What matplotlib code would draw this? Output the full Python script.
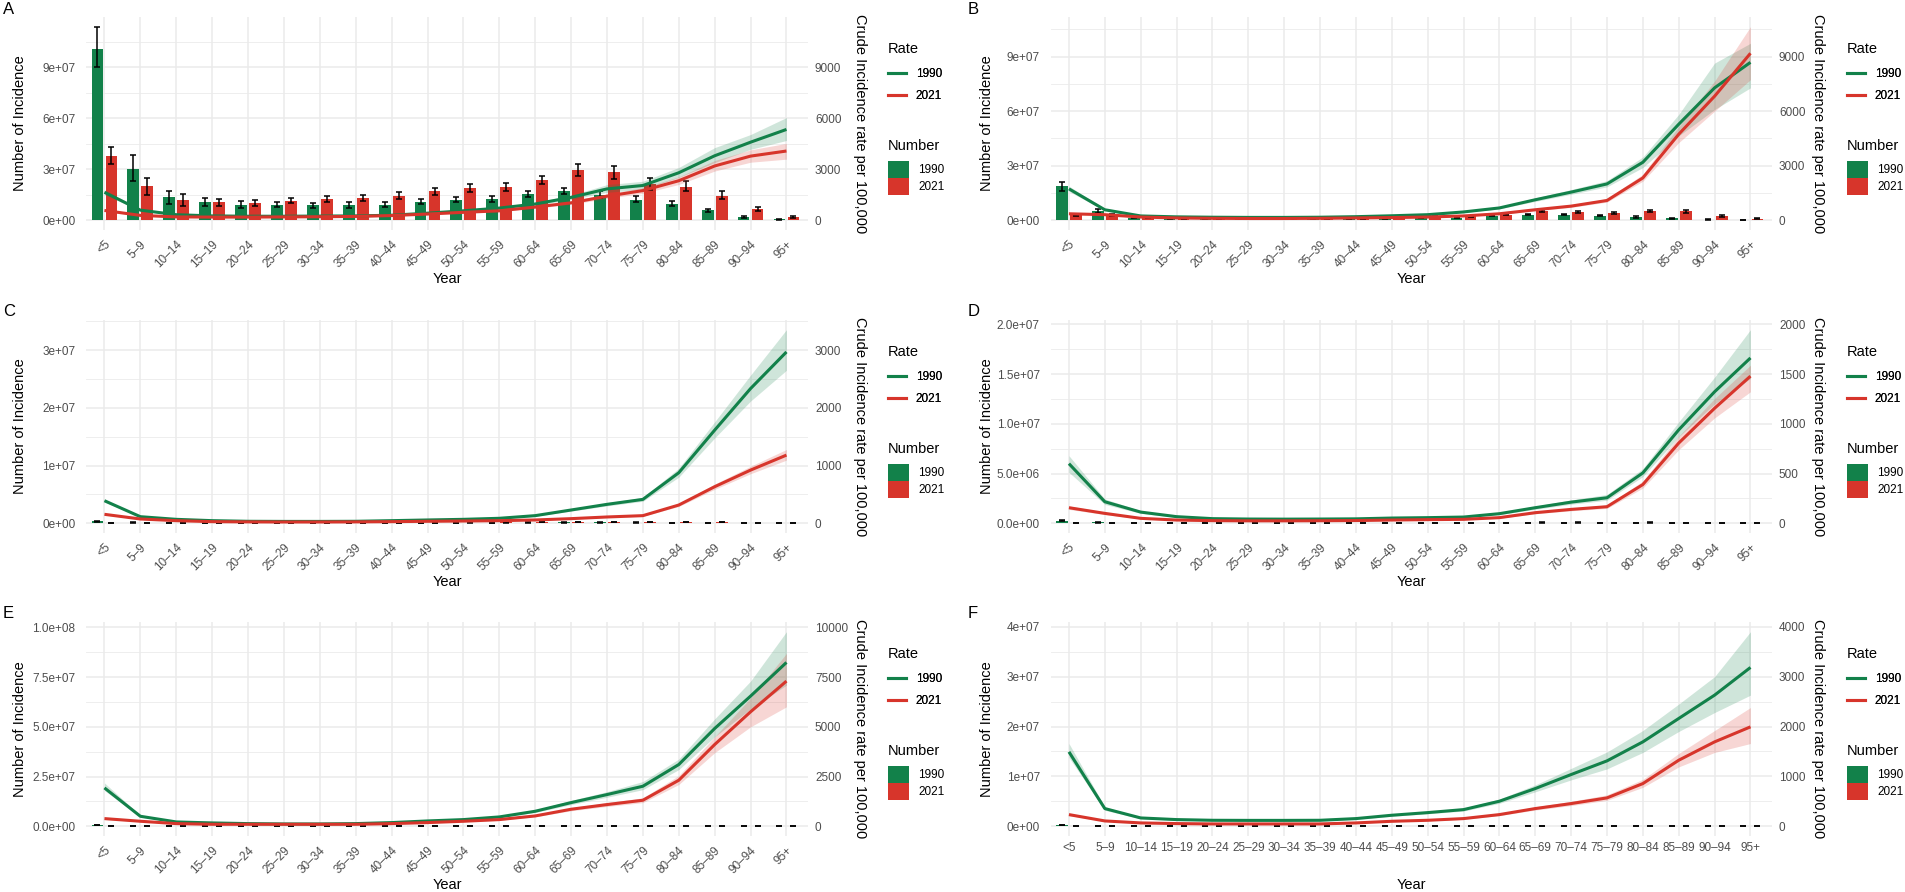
import numpy as np
import matplotlib
matplotlib.use('Agg')
import matplotlib.pyplot as plt
from matplotlib.lines import Line2D
from matplotlib.patches import Patch

plt.rcParams['font.family'] = ['Liberation Sans', 'DejaVu Sans']

W, H = 1906, 892
GREEN = '#12814A'
RED = '#D7352B'
GRID = '#EBEBEB'
TXT = '#4D4D4D'

AGES = ['<5', '5–9', '10–14', '15–19', '20–24', '25–29', '30–34', '35–39',
        '40–44', '45–49', '50–54', '55–59', '60–64', '65–69', '70–74',
        '75–79', '80–84', '85–89', '90–94', '95+']

# ---- rates (per 100,000), with ribbon bounds ----
A_rate90 = [1650, 600, 330, 260, 240, 240, 250, 260, 300, 420, 560, 720, 960, 1350, 1850, 2050, 2800, 3800, 4600, 5350]
A_lo90 = [1520, 550, 300, 235, 215, 215, 225, 235, 270, 380, 505, 650, 870, 1230, 1650, 1820, 2530, 3400, 4180, 4700]
A_hi90 = [1800, 660, 365, 285, 265, 265, 275, 285, 330, 460, 615, 790, 1060, 1480, 2100, 2300, 3110, 4280, 5050, 6050]
A_rate21 = [580, 290, 200, 190, 190, 200, 210, 230, 280, 370, 470, 560, 780, 1030, 1420, 1750, 2330, 3200, 3780, 4080]
A_lo21 = [530, 265, 180, 170, 170, 180, 190, 210, 255, 335, 425, 505, 710, 940, 1290, 1590, 2110, 2900, 3420, 3600]
A_hi21 = [640, 320, 220, 210, 210, 220, 230, 255, 310, 405, 515, 615, 860, 1130, 1560, 1920, 2560, 3520, 4150, 4530]

B_rate90 = [1730, 580, 240, 190, 170, 160, 160, 170, 200, 250, 310, 460, 680, 1130, 1550, 2000, 3190, 5280, 7280, 8680]
B_lo90 = [1590, 530, 220, 175, 155, 145, 145, 155, 185, 230, 285, 425, 630, 1040, 1430, 1840, 2900, 4640, 6090, 7280]
B_hi90 = [1880, 640, 265, 210, 185, 175, 175, 185, 220, 275, 340, 500, 740, 1230, 1690, 2180, 3480, 5820, 8640, 9730]
B_rate21 = [360, 310, 180, 130, 110, 100, 100, 110, 130, 150, 180, 240, 360, 580, 780, 1090, 2330, 4730, 6820, 9180]
B_lo21 = [320, 280, 160, 115, 97, 88, 88, 97, 115, 135, 160, 215, 325, 525, 710, 1000, 2150, 4270, 6000, 7730]
B_hi21 = [400, 345, 200, 145, 123, 112, 112, 123, 145, 167, 200, 265, 400, 640, 860, 1190, 2530, 5150, 7650, 10640]

C_rate90 = [392, 115, 69, 46, 35, 33, 33, 35, 46, 58, 69, 87, 133, 231, 329, 415, 877, 1616, 2337, 2972]
C_lo90 = [370, 105, 63, 42, 32, 30, 30, 32, 42, 53, 63, 80, 122, 212, 302, 382, 800, 1480, 2120, 2654]
C_hi90 = [415, 126, 75, 50, 38, 36, 36, 38, 50, 63, 75, 95, 145, 250, 356, 450, 955, 1760, 2570, 3358]
C_rate21 = [156, 75, 46, 29, 25, 23, 23, 25, 29, 35, 40, 46, 58, 81, 110, 133, 317, 635, 923, 1183]
C_lo21 = [145, 69, 42, 27, 23, 21, 21, 23, 27, 32, 37, 42, 53, 74, 101, 122, 292, 590, 860, 1096]
C_hi21 = [168, 82, 50, 32, 27, 25, 25, 27, 32, 38, 43, 50, 63, 88, 120, 145, 342, 680, 990, 1281]

D_rate90 = [600, 217, 113, 67, 47, 43, 42, 43, 45, 53, 57, 63, 97, 157, 213, 257, 507, 940, 1323, 1663]
D_lo90 = [513, 190, 100, 60, 42, 38, 37, 38, 40, 47, 51, 56, 87, 141, 192, 232, 470, 870, 1200, 1457]
D_hi90 = [680, 245, 126, 74, 52, 48, 47, 48, 50, 59, 63, 70, 107, 173, 235, 290, 550, 1020, 1470, 1947]
D_rate21 = [157, 100, 50, 33, 27, 25, 25, 26, 28, 33, 37, 40, 57, 107, 140, 167, 390, 807, 1157, 1480]
D_lo21 = [140, 88, 44, 29, 24, 22, 22, 23, 25, 29, 33, 36, 51, 96, 126, 150, 355, 740, 1060, 1323]
D_hi21 = [175, 112, 56, 37, 30, 28, 28, 29, 31, 37, 41, 44, 63, 118, 154, 184, 425, 875, 1255, 1590]

E_rate90 = [1930, 503, 218, 168, 134, 117, 117, 134, 185, 268, 336, 470, 755, 1190, 1594, 2013, 3104, 4916, 6544, 8238]
E_lo90 = [1800, 460, 200, 154, 123, 107, 107, 123, 170, 246, 309, 432, 695, 1090, 1460, 1840, 2850, 4500, 5900, 7097]
E_hi90 = [2180, 550, 238, 183, 146, 128, 128, 146, 202, 292, 366, 512, 822, 1300, 1740, 2250, 3380, 5400, 7300, 9782]
E_rate21 = [386, 252, 134, 100, 100, 100, 100, 100, 134, 185, 252, 336, 520, 856, 1091, 1309, 2315, 4110, 5755, 7299]
E_lo21 = [350, 230, 122, 91, 91, 91, 91, 91, 122, 169, 230, 306, 475, 780, 995, 1190, 2100, 3700, 5000, 6007]
E_hi21 = [420, 275, 146, 109, 109, 109, 109, 109, 146, 202, 275, 366, 565, 935, 1190, 1430, 2550, 4500, 6450, 8691]

F_rate90 = [1492, 355, 167, 134, 120, 118, 118, 120, 154, 221, 274, 334, 502, 756, 1037, 1311, 1692, 2161, 2629, 3184]
F_lo90 = [1380, 320, 152, 122, 109, 107, 107, 109, 140, 200, 250, 305, 460, 690, 930, 1150, 1480, 1900, 2280, 2629]
F_hi90 = [1660, 390, 183, 146, 131, 129, 129, 131, 168, 242, 298, 365, 545, 830, 1160, 1490, 1920, 2450, 3000, 3900]
F_rate21 = [234, 107, 67, 54, 47, 47, 47, 47, 67, 100, 120, 154, 234, 355, 455, 569, 856, 1324, 1692, 1993]
F_lo21 = [215, 98, 61, 49, 43, 43, 43, 43, 61, 91, 110, 141, 214, 325, 415, 520, 780, 1190, 1480, 1659]
F_hi21 = [255, 117, 73, 59, 51, 51, 51, 51, 73, 109, 130, 168, 255, 390, 500, 630, 940, 1460, 1920, 2381]

# ---- numbers of incidence (millions), with error bar bounds ----
A_num90 = [101, 30.1, 13.6, 10.7, 9.3, 9.3, 8.8, 8.8, 9.3, 11.0, 12.1, 12.6, 15.6, 17.1, 15.0, 12.2, 9.7, 5.8, 2.0, 0.6]
A_num90_lo = [90, 23.3, 9.7, 8.5, 7.5, 7.8, 7.5, 7.2, 8.0, 9.5, 10.5, 10.8, 14.0, 15.5, 13.0, 10.5, 8.5, 5.0, 1.6, 0.4]
A_num90_hi = [114, 38.3, 17.5, 13.0, 11.2, 10.8, 10.2, 10.5, 10.8, 12.5, 13.8, 14.5, 17.5, 19.2, 17.0, 14.2, 11.2, 6.6, 2.5, 0.8]
A_num21 = [37.9, 20.0, 12.2, 10.5, 10.3, 11.5, 12.7, 13.0, 14.6, 17.1, 18.9, 19.5, 23.7, 29.6, 28.2, 21.4, 19.8, 14.6, 6.4, 2.0]
A_num21_lo = [33.0, 15.0, 8.6, 8.5, 8.4, 10.0, 11.0, 11.2, 12.8, 15.2, 16.8, 17.2, 21.5, 26.0, 24.5, 18.0, 17.0, 12.5, 5.3, 1.6]
A_num21_hi = [43.4, 24.9, 15.7, 12.5, 12.2, 13.0, 14.5, 15.0, 16.5, 19.2, 21.2, 22.0, 26.0, 33.0, 31.8, 25.0, 23.0, 17.0, 7.6, 2.5]

B_num90 = [18.8, 5.0, 1.5, 1.0, 0.8, 0.7, 0.6, 0.6, 0.7, 1.0, 1.3, 1.5, 2.4, 3.1, 3.1, 2.4, 1.8, 1.1, 0.4, 0.2]
B_num90_lo = [16.0, 4.2, 1.2, 0.8, 0.6, 0.55, 0.5, 0.5, 0.55, 0.8, 1.1, 1.3, 2.1, 2.7, 2.7, 2.1, 1.5, 0.9, 0.3, 0.1]
B_num90_hi = [21.2, 6.2, 1.8, 1.2, 1.0, 0.85, 0.75, 0.75, 0.85, 1.2, 1.5, 1.7, 2.7, 3.5, 3.5, 2.7, 2.1, 1.3, 0.5, 0.3]
B_num21 = [2.7, 3.0, 1.5, 0.8, 0.6, 0.6, 0.6, 0.7, 0.9, 1.5, 2.0, 2.2, 3.1, 5.1, 4.5, 4.0, 4.9, 4.9, 2.4, 0.9]
B_num21_lo = [2.3, 2.5, 1.2, 0.65, 0.5, 0.5, 0.5, 0.55, 0.75, 1.3, 1.75, 1.9, 2.7, 4.5, 3.9, 3.4, 4.3, 4.2, 2.0, 0.7]
B_num21_hi = [3.1, 3.6, 1.8, 0.95, 0.7, 0.7, 0.7, 0.85, 1.05, 1.7, 2.25, 2.5, 3.5, 5.8, 5.1, 4.6, 5.6, 5.7, 2.8, 1.1]

C_num90 = [0.35, 0.12, 0.08, 0.07, 0.06, 0.06, 0.06, 0.07, 0.08, 0.09, 0.10, 0.11, 0.14, 0.16, 0.16, 0.14, 0.12, 0.08, 0.04, 0.01]
C_num90_lo = [0.28, 0.10, 0.06, 0.05, 0.05, 0.05, 0.05, 0.05, 0.06, 0.07, 0.08, 0.09, 0.11, 0.13, 0.13, 0.11, 0.10, 0.06, 0.03, 0.01]
C_num90_hi = [0.42, 0.15, 0.10, 0.09, 0.07, 0.07, 0.07, 0.09, 0.10, 0.11, 0.12, 0.13, 0.17, 0.19, 0.19, 0.17, 0.14, 0.10, 0.05, 0.02]
C_num21 = [0.06, 0.06, 0.05, 0.05, 0.05, 0.06, 0.07, 0.08, 0.09, 0.11, 0.13, 0.15, 0.18, 0.22, 0.22, 0.19, 0.21, 0.20, 0.12, 0.04]
C_num21_lo = [0.05, 0.05, 0.04, 0.04, 0.04, 0.05, 0.06, 0.06, 0.07, 0.09, 0.11, 0.12, 0.15, 0.18, 0.18, 0.16, 0.17, 0.16, 0.10, 0.03]
C_num21_hi = [0.07, 0.07, 0.06, 0.06, 0.06, 0.07, 0.08, 0.10, 0.11, 0.13, 0.15, 0.18, 0.21, 0.26, 0.26, 0.22, 0.25, 0.24, 0.14, 0.05]

D_num90 = [0.27, 0.10, 0.06, 0.05, 0.05, 0.05, 0.05, 0.05, 0.05, 0.06, 0.06, 0.06, 0.07, 0.07, 0.07, 0.06, 0.06, 0.04, 0.02, 0.01]
D_num90_lo = [0.22, 0.08, 0.05, 0.04, 0.04, 0.04, 0.04, 0.04, 0.04, 0.05, 0.05, 0.05, 0.06, 0.06, 0.06, 0.05, 0.05, 0.03, 0.015, 0.005]
D_num90_hi = [0.33, 0.12, 0.07, 0.06, 0.06, 0.06, 0.06, 0.06, 0.06, 0.07, 0.07, 0.07, 0.08, 0.08, 0.08, 0.07, 0.07, 0.05, 0.025, 0.015]
D_num21 = [0.06, 0.05, 0.04, 0.04, 0.04, 0.04, 0.04, 0.04, 0.05, 0.05, 0.06, 0.06, 0.07, 0.08, 0.08, 0.07, 0.08, 0.07, 0.04, 0.02]
D_num21_lo = [0.05, 0.04, 0.03, 0.03, 0.03, 0.03, 0.03, 0.03, 0.04, 0.04, 0.05, 0.05, 0.06, 0.07, 0.07, 0.06, 0.07, 0.06, 0.03, 0.015]
D_num21_hi = [0.07, 0.06, 0.05, 0.05, 0.05, 0.05, 0.05, 0.05, 0.06, 0.06, 0.07, 0.07, 0.08, 0.09, 0.09, 0.08, 0.09, 0.08, 0.05, 0.025]

E_num90 = [0.67, 0.15, 0.10, 0.08, 0.07, 0.07, 0.07, 0.07, 0.08, 0.09, 0.10, 0.11, 0.13, 0.14, 0.13, 0.11, 0.09, 0.06, 0.03, 0.01]
E_num90_lo = [0.58, 0.12, 0.08, 0.06, 0.05, 0.05, 0.05, 0.05, 0.06, 0.07, 0.08, 0.09, 0.11, 0.12, 0.11, 0.09, 0.07, 0.05, 0.02, 0.005]
E_num90_hi = [0.78, 0.18, 0.12, 0.10, 0.09, 0.09, 0.09, 0.09, 0.10, 0.11, 0.12, 0.13, 0.15, 0.16, 0.15, 0.13, 0.11, 0.07, 0.04, 0.015]
E_num21 = [0.20, 0.12, 0.09, 0.08, 0.08, 0.09, 0.10, 0.11, 0.13, 0.15, 0.17, 0.18, 0.21, 0.25, 0.24, 0.20, 0.20, 0.16, 0.08, 0.03]
E_num21_lo = [0.17, 0.10, 0.07, 0.06, 0.06, 0.07, 0.08, 0.09, 0.11, 0.13, 0.15, 0.16, 0.18, 0.22, 0.21, 0.17, 0.17, 0.14, 0.07, 0.02]
E_num21_hi = [0.23, 0.14, 0.11, 0.10, 0.10, 0.11, 0.12, 0.13, 0.15, 0.17, 0.19, 0.20, 0.24, 0.28, 0.27, 0.23, 0.23, 0.18, 0.09, 0.04]

F_num90 = [0.20, 0.06, 0.04, 0.04, 0.04, 0.04, 0.04, 0.04, 0.05, 0.05, 0.06, 0.06, 0.07, 0.07, 0.07, 0.06, 0.05, 0.03, 0.02, 0.01]
F_num90_lo = [0.17, 0.05, 0.03, 0.03, 0.03, 0.03, 0.03, 0.03, 0.04, 0.04, 0.05, 0.05, 0.06, 0.06, 0.06, 0.05, 0.04, 0.025, 0.015, 0.005]
F_num90_hi = [0.23, 0.07, 0.05, 0.05, 0.05, 0.05, 0.05, 0.05, 0.06, 0.06, 0.07, 0.07, 0.08, 0.08, 0.08, 0.07, 0.06, 0.035, 0.025, 0.015]
F_num21 = [0.05, 0.04, 0.04, 0.04, 0.04, 0.04, 0.05, 0.05, 0.06, 0.07, 0.08, 0.08, 0.09, 0.10, 0.10, 0.09, 0.09, 0.08, 0.04, 0.02]
F_num21_lo = [0.04, 0.03, 0.03, 0.03, 0.03, 0.03, 0.04, 0.04, 0.05, 0.06, 0.07, 0.07, 0.08, 0.09, 0.09, 0.08, 0.08, 0.07, 0.03, 0.015]
F_num21_hi = [0.06, 0.05, 0.05, 0.05, 0.05, 0.05, 0.06, 0.06, 0.07, 0.08, 0.09, 0.09, 0.10, 0.11, 0.11, 0.10, 0.10, 0.09, 0.05, 0.025]

# axis breaks per panel
A_left_ticks = [0, 3e7, 6e7, 9e7]
A_right_ticks = [0, 3000, 6000, 9000]
B_left_ticks = [0, 3e7, 6e7, 9e7]
B_right_ticks = [0, 3000, 6000, 9000]
C_left_ticks = [0, 1e7, 2e7, 3e7]
C_right_ticks = [0, 1000, 2000, 3000]
D_left_ticks = [0, 5e6, 1e7, 1.5e7, 2e7]
D_right_ticks = [0, 500, 1000, 1500, 2000]
E_left_ticks = [0, 2.5e7, 5e7, 7.5e7, 1e8]
E_right_ticks = [0, 2500, 5000, 7500, 10000]
F_left_ticks = [0, 1e7, 2e7, 3e7, 4e7]
F_right_ticks = [0, 1000, 2000, 3000, 4000]

# layout in pixels
COLS = [dict(x0=86.5, x1=808, tag=3, ylab=20.5, rlab=860, leg=888),
        dict(x0=1051, x1=1772, tag=968, ylab=987, rlab=1818, leg=1847)]
ROWS = [dict(top=17, bot=230, tag=9),
        dict(top=320, bot=533, tag=311),
        dict(top=622, bot=836, tag=614)]

fig = plt.figure(figsize=(W / 100, H / 100), dpi=100)
fig.patch.set_facecolor('white')


def panel(tag, col, row, rates, nums, lticks, rticks, lfmt, rotate=True):
    c, r = COLS[col], ROWS[row]
    wpx, hpx = c['x1'] - c['x0'], r['bot'] - r['top']
    ax = fig.add_axes([c['x0'] / W, 1 - r['bot'] / H, wpx / W, hpx / H])
    x = np.arange(len(AGES))
    r90, lo90, hi90, r21, lo21, hi21 = [np.array(v) * 1e4 for v in rates]
    n90, n90lo, n90hi, n21, n21lo, n21hi = [np.array(v) * 1e6 for v in nums]

    ax.bar(x - 0.195, n90, width=0.33, color=GREEN, zorder=2)
    ax.bar(x + 0.195, n21, width=0.33, color=RED, zorder=2)
    ax.errorbar(x - 0.195, n90, yerr=[n90 - n90lo, n90hi - n90], fmt='none',
                ecolor='black', elinewidth=1.1, capsize=2, capthick=1.1, zorder=3)
    ax.errorbar(x + 0.195, n21, yerr=[n21 - n21lo, n21hi - n21], fmt='none',
                ecolor='black', elinewidth=1.1, capsize=2, capthick=1.1, zorder=3)

    ax.fill_between(x, lo90, hi90, color=GREEN, alpha=0.2, lw=0, zorder=4)
    ax.fill_between(x, lo21, hi21, color=RED, alpha=0.2, lw=0, zorder=4)
    ax.plot(x, r90, color=GREEN, lw=2.2, zorder=5, solid_capstyle='butt')
    ax.plot(x, r21, color=RED, lw=2.2, zorder=5, solid_capstyle='butt')

    top = max(hi90.max(), hi21.max(), n90hi.max(), n21hi.max())
    ax.set_ylim(-0.05 * top, 1.05 * top)
    ax.set_xlim(-0.5, 19.6)

    step = lticks[1] - lticks[0]
    minors = [t + step / 2 for t in lticks] + [lticks[0] - step / 2]
    minors = [m for m in minors if -0.05 * top <= m <= 1.05 * top]
    ax.set_yticks(lticks)
    ax.set_yticklabels([format(t, lfmt) for t in lticks])
    ax.set_yticks(minors, minor=True)
    ax.set_xticks(x)
    if rotate:
        ax.set_xticklabels(AGES, rotation=45, ha='right', va='top',
                           rotation_mode='anchor')
        ax.tick_params(axis='x', pad=6)
    else:
        ax.set_xticklabels(AGES)
        ax.tick_params(axis='x', pad=4)
    ax.tick_params(axis='both', which='both', length=0, labelsize=8.5,
                   labelcolor=TXT)
    ax.tick_params(axis='y', pad=8)
    ax.grid(True, which='major', color=GRID, lw=1.1)
    ax.grid(True, which='minor', axis='y', color=GRID, lw=0.6)
    ax.set_axisbelow(True)
    for s in ax.spines.values():
        s.set_visible(False)

    ax.set_xlabel('Year', fontsize=10.5, va='center')
    ax.xaxis.set_label_coords(0.5, -49 / hpx)
    ax.set_ylabel('Number of Incidence', fontsize=10.5, va='center')
    ax.yaxis.set_label_coords((c['ylab'] - c['x0']) / wpx, 0.5)

    sec = ax.secondary_yaxis('right', functions=(lambda v: v / 1e4,
                                                 lambda v: v * 1e4))
    sec.set_yticks(rticks)
    sec.set_yticklabels([str(int(t)) for t in rticks])
    sec.tick_params(length=0, pad=5, labelsize=8.5, labelcolor=TXT)
    for s in sec.spines.values():
        s.set_visible(False)
    fig.text(c['rlab'] / W, 1 - (r['top'] + r['bot']) / 2 / H,
             'Crude Incidence rate per 100,000', rotation=270,
             fontsize=10.5, ha='center', va='center')

    fig.text(c['tag'] / W, 1 - r['tag'] / H, tag, fontsize=12,
             ha='left', va='center')

    # legends: titles as text, keys through legend()
    fig.text(c['leg'] / W, 1 - (r['top'] + 32) / H, 'Rate', fontsize=10.5,
             ha='left', va='center')
    fig.text(c['leg'] / W, 1 - (r['top'] + 129) / H, 'Number', fontsize=10.5,
             ha='left', va='center')
    rate_handles = [Line2D([0], [0], color=GREEN, lw=2.2),
                    Line2D([0], [0], color=RED, lw=2.2)]
    leg1 = fig.legend(rate_handles, ['1990', '2021'], loc='upper left',
                      bbox_to_anchor=(c['leg'] / W, 1 - (r['top'] + 51) / H),
                      frameon=False, fontsize=8.5, borderpad=0,
                      borderaxespad=0, handlelength=1.55, handletextpad=0.8,
                      labelspacing=0.85)
    num_handles = [Patch(facecolor=GREEN, edgecolor='none'),
                   Patch(facecolor=RED, edgecolor='none')]
    fig.legend(num_handles, ['1990', '2021'], loc='upper left',
               bbox_to_anchor=(c['leg'] / W, 1 - (r['top'] + 144) / H),
               frameon=False, fontsize=8.5, borderpad=0, borderaxespad=0,
               handlelength=1.8, handleheight=1.85, handletextpad=0.75,
               labelspacing=0)
    fig.add_artist(leg1)


panel('A', 0, 0, [A_rate90, A_lo90, A_hi90, A_rate21, A_lo21, A_hi21],
      [A_num90, A_num90_lo, A_num90_hi, A_num21, A_num21_lo, A_num21_hi],
      A_left_ticks, A_right_ticks, '.0e')
panel('B', 1, 0, [B_rate90, B_lo90, B_hi90, B_rate21, B_lo21, B_hi21],
      [B_num90, B_num90_lo, B_num90_hi, B_num21, B_num21_lo, B_num21_hi],
      B_left_ticks, B_right_ticks, '.0e')
panel('C', 0, 1, [C_rate90, C_lo90, C_hi90, C_rate21, C_lo21, C_hi21],
      [C_num90, C_num90_lo, C_num90_hi, C_num21, C_num21_lo, C_num21_hi],
      C_left_ticks, C_right_ticks, '.0e')
panel('D', 1, 1, [D_rate90, D_lo90, D_hi90, D_rate21, D_lo21, D_hi21],
      [D_num90, D_num90_lo, D_num90_hi, D_num21, D_num21_lo, D_num21_hi],
      D_left_ticks, D_right_ticks, '.1e')
panel('E', 0, 2, [E_rate90, E_lo90, E_hi90, E_rate21, E_lo21, E_hi21],
      [E_num90, E_num90_lo, E_num90_hi, E_num21, E_num21_lo, E_num21_hi],
      E_left_ticks, E_right_ticks, '.1e')
panel('F', 1, 2, [F_rate90, F_lo90, F_hi90, F_rate21, F_lo21, F_hi21],
      [F_num90, F_num90_lo, F_num90_hi, F_num21, F_num21_lo, F_num21_hi],
      F_left_ticks, F_right_ticks, '.0e', rotate=False)

fig.savefig('out.png', dpi=100, facecolor='white')
